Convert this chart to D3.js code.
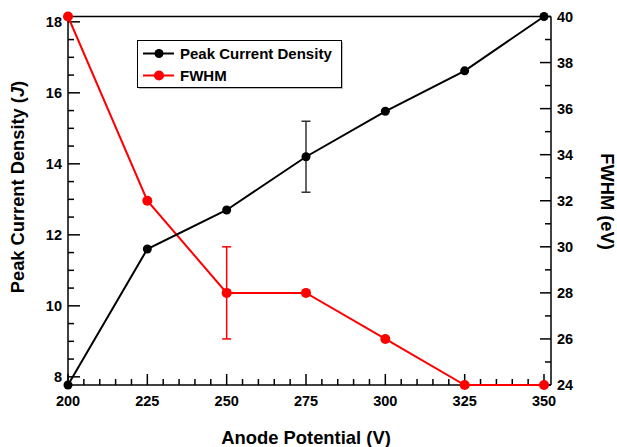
<!DOCTYPE html>
<html>
<head>
<meta charset="utf-8">
<script src="https://cdn.jsdelivr.net/npm/d3@7"></script>
<style>
  body { margin: 0; background: #fff; }
  text { font-family: "Liberation Sans", Arial, sans-serif; font-weight: bold; }
</style>
</head>
<body>
<div id="chart"></div>
<script>
// Data
const potentials = [200, 225, 250, 275, 300, 325, 350];
const currentDensity = [7.77, 11.6, 12.7, 14.2, 15.48, 16.62, 18.15];
const currentErr = [0, 0, 0, 1, 0, 0, 0];
const fwhm = [40, 32, 28, 28, 26, 24, 24];
const fwhmErr = [0, 0, 2, 0, 0, 0, 0];
const xTicks = [200, 225, 250, 275, 300, 325, 350];
const leftTicks = [8, 10, 12, 14, 16, 18];
const rightTicks = [24, 26, 28, 30, 32, 34, 36, 38, 40];

const W = 617, H = 447;
const plotLeft = 68, plotRight = 544, rightAxis = 551, plotTop = 16.5, plotBottom = 385;

const svg = d3.select('#chart').append('svg')
  .attr('width', W).attr('height', H);

const x = d3.scaleLinear().domain([200, 350]).range([plotLeft, plotRight]);
const yL = d3.scaleLinear().domain([7.77, 18.15]).range([plotBottom, plotTop]);
const yR = d3.scaleLinear().domain([24, 40]).range([plotBottom, plotTop]);

// frame top line
svg.append('line')
  .attr('x1', plotLeft).attr('x2', rightAxis)
  .attr('y1', plotTop).attr('y2', plotTop)
  .attr('stroke', '#000').attr('stroke-width', 1.5);

// x axis
const xAxis = svg.append('g').attr('transform', `translate(0,${plotBottom})`);
xAxis.append('line').attr('x1', plotLeft).attr('x2', rightAxis)
  .attr('stroke', '#000').attr('stroke-width', 1.5);
xAxis.selectAll('.minor').data(d3.range(200, 351, 5)).enter().append('line')
  .attr('x1', d => x(d)).attr('x2', d => x(d))
  .attr('y1', 0).attr('y2', d => d % 25 === 0 ? -11 : -6)
  .attr('stroke', '#000').attr('stroke-width', 1.5);
xAxis.selectAll('text').data(xTicks).enter().append('text')
  .attr('x', d => x(d)).attr('y', 21)
  .attr('text-anchor', 'middle').attr('font-size', 14.5)
  .text(d => d);

// left axis
const lAxis = svg.append('g');
lAxis.append('line').attr('x1', plotLeft).attr('x2', plotLeft)
  .attr('y1', plotTop).attr('y2', plotBottom)
  .attr('stroke', '#000').attr('stroke-width', 1.5);
lAxis.selectAll('.t').data(d3.range(8, 18.01, 0.5)).enter().append('line')
  .attr('x1', plotLeft).attr('x2', d => plotLeft + (d % 2 === 0 ? 12 : 6))
  .attr('y1', d => yL(d)).attr('y2', d => yL(d))
  .attr('stroke', '#000').attr('stroke-width', 1.5);
lAxis.selectAll('text').data(leftTicks).enter().append('text')
  .attr('x', plotLeft - 6).attr('y', d => yL(d) + 5)
  .attr('text-anchor', 'end').attr('font-size', 14.5)
  .text(d => d);

// right axis
const rAxis = svg.append('g');
rAxis.append('line').attr('x1', rightAxis).attr('x2', rightAxis)
  .attr('y1', plotTop).attr('y2', plotBottom)
  .attr('stroke', '#000').attr('stroke-width', 1.5);
rAxis.selectAll('.t').data(d3.range(24, 40.01, 1)).enter().append('line')
  .attr('x1', rightAxis).attr('x2', d => rightAxis - (d % 2 === 0 ? 11 : 6))
  .attr('y1', d => yR(d)).attr('y2', d => yR(d))
  .attr('stroke', '#000').attr('stroke-width', 1.5);
rAxis.selectAll('text').data(rightTicks).enter().append('text')
  .attr('x', rightAxis + 6).attr('y', d => yR(d) + 5)
  .attr('text-anchor', 'start').attr('font-size', 14.5)
  .text(d => d);

// axis titles
svg.append('text')
  .attr('transform', `translate(24,187) rotate(-90)`)
  .attr('text-anchor', 'middle').attr('font-size', 18.3)
  .html('Peak Current Density (<tspan font-style="italic">J</tspan>)');
svg.append('text')
  .attr('transform', `translate(601,201.5) rotate(90)`)
  .attr('text-anchor', 'middle').attr('font-size', 18.3)
  .text('FWHM (eV)');
svg.append('text')
  .attr('x', 306).attr('y', 444)
  .attr('text-anchor', 'middle').attr('font-size', 18.4)
  .text('Anode Potential (V)');

// series
function drawSeries(vals, errs, y, color, errColor, r) {
  const g = svg.append('g');
  const line = d3.line().x((d, i) => x(potentials[i])).y(d => y(d));
  g.append('path').datum(vals)
    .attr('d', line).attr('fill', 'none')
    .attr('stroke', color).attr('stroke-width', 2);
  vals.forEach((v, i) => {
    if (errs[i] > 0) {
      const cx = x(potentials[i]);
      const y1 = y(v + errs[i]), y2 = y(v - errs[i]);
      g.append('line').attr('x1', cx).attr('x2', cx).attr('y1', y1).attr('y2', y2)
        .attr('stroke', errColor).attr('stroke-width', 1.5);
      [y1, y2].forEach(yy => g.append('line')
        .attr('x1', cx - 4.5).attr('x2', cx + 4.5).attr('y1', yy).attr('y2', yy)
        .attr('stroke', errColor).attr('stroke-width', 1.5));
    }
  });
  g.selectAll('circle').data(vals).enter().append('circle')
    .attr('cx', (d, i) => x(potentials[i])).attr('cy', d => y(d))
    .attr('r', r).attr('fill', color);
}
drawSeries(fwhm, fwhmErr, yR, '#ff0000', '#ff0000', 5);
drawSeries(currentDensity, currentErr, yL, '#000', '#333', 4.5);

// legend
const lg = svg.append('g');
lg.append('rect').attr('x', 139).attr('y', 42).attr('width', 204).attr('height', 47)
  .attr('fill', '#bbb');
lg.append('rect').attr('x', 137.5).attr('y', 40.5).attr('width', 204).attr('height', 47)
  .attr('fill', '#fff').attr('stroke', '#000').attr('stroke-width', 1);
const legendItems = [
  { label: 'Peak Current Density', color: '#000', r: 4.5 },
  { label: 'FWHM', color: '#ff0000', r: 5 }
];
legendItems.forEach((d, i) => {
  const yy = 53.5 + i * 22;
  lg.append('line').attr('x1', 143).attr('x2', 174).attr('y1', yy).attr('y2', yy)
    .attr('stroke', d.color).attr('stroke-width', 2);
  lg.append('circle').attr('cx', 159).attr('cy', yy).attr('r', d.r).attr('fill', d.color);
  lg.append('text').attr('x', 180).attr('y', yy + 5.5)
    .attr('font-size', 15).text(d.label);
});
</script>
</body>
</html>
